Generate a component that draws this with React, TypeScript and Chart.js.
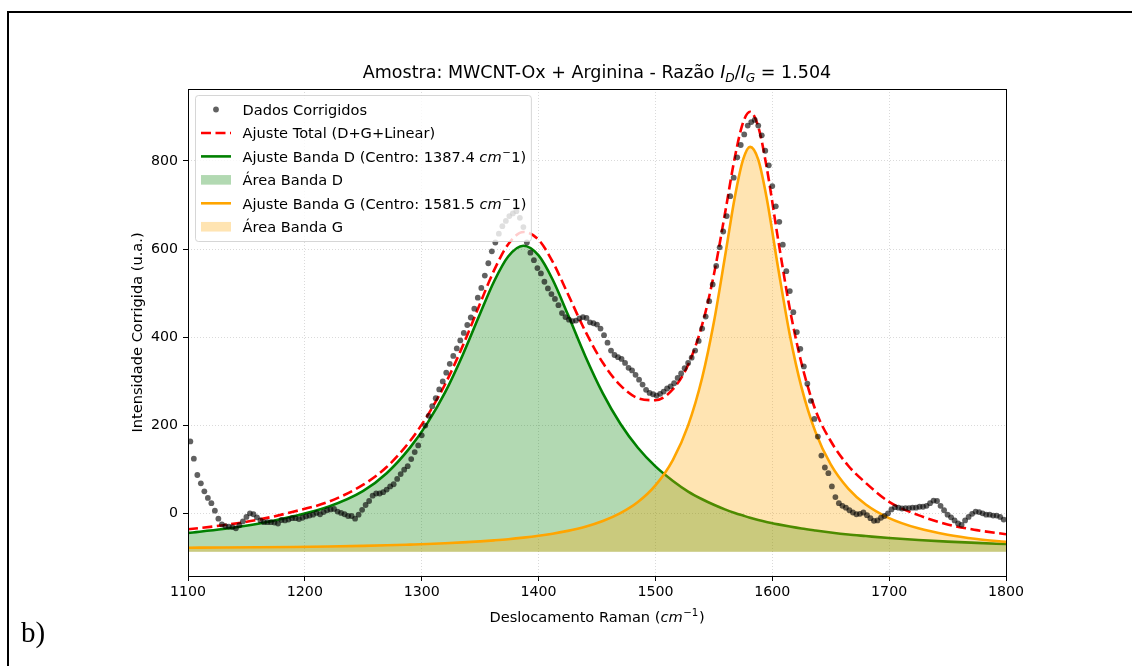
import React, { useEffect, useRef } from "react";
import { Chart, registerables } from "chart.js";

Chart.register(...registerables);

// ---------- data ----------
const ramanShift = [
  1102, 1105, 1108, 1111, 1114, 1117, 1120, 1123, 1126, 1129,
  1132, 1135, 1138, 1141, 1144, 1147, 1150, 1153, 1156, 1159,
  1162, 1165, 1168, 1171, 1174, 1177, 1180, 1183, 1186, 1189,
  1192, 1195, 1198, 1201, 1204, 1207, 1210, 1213, 1216, 1219,
  1222, 1225, 1228, 1231, 1234, 1237, 1240, 1243, 1246, 1249,
  1252, 1255, 1258, 1261, 1264, 1267, 1270, 1273, 1276, 1279,
  1282, 1285, 1288, 1291, 1294, 1297, 1300, 1303, 1306, 1309,
  1312, 1315, 1318, 1321, 1324, 1327, 1330, 1333, 1336, 1339,
  1342, 1345, 1348, 1351, 1354, 1357, 1360, 1363, 1366, 1369,
  1372, 1375, 1378, 1381, 1384, 1387, 1390, 1393, 1396, 1399,
  1402, 1405, 1408, 1411, 1414, 1417, 1420, 1423, 1426, 1429,
  1432, 1435, 1438, 1441, 1444, 1447, 1450, 1453, 1456, 1459,
  1462, 1465, 1468, 1471, 1474, 1477, 1480, 1483, 1486, 1489,
  1492, 1495, 1498, 1501, 1504, 1507, 1510, 1513, 1516, 1519,
  1522, 1525, 1528, 1531, 1534, 1537, 1540, 1543, 1546, 1549,
  1552, 1555, 1558, 1561, 1564, 1567, 1570, 1573, 1576, 1579,
  1582, 1585, 1588, 1591, 1594, 1597, 1600, 1603, 1606, 1609,
  1612, 1615, 1618, 1621, 1624, 1627, 1630, 1633, 1636, 1639,
  1642, 1645, 1648, 1651, 1654, 1657, 1660, 1663, 1666, 1669,
  1672, 1675, 1678, 1681, 1684, 1687, 1690, 1693, 1696, 1699,
  1702, 1705, 1708, 1711, 1714, 1717, 1720, 1723, 1726, 1729,
  1732, 1735, 1738, 1741, 1744, 1747, 1750, 1753, 1756, 1759,
  1762, 1765, 1768, 1771, 1774, 1777, 1780, 1783, 1786, 1789,
  1792, 1795, 1798,
];

const intensity = [
  164, 125, 88, 69, 51, 36, 24, 7, -11, -24,
  -28, -29, -30, -33, -26, -17, -7, 1, -1, -8,
  -15, -19, -19, -19, -20, -22, -14, -15, -13, -10,
  -10, -12, -9, -6, -4, -2, 2, -1, 4, 8,
  10, 11, 5, 2, -1, -5, -5, -11, -2, 9,
  20, 29, 41, 46, 46, 49, 55, 62, 67, 79,
  90, 100, 108, 124, 140, 155, 178, 200, 222, 244,
  262, 282, 300, 320, 340, 358, 375, 393, 410, 428,
  445, 465, 490, 512, 540, 568, 595, 615, 635, 652,
  664, 675, 681, 686, 671, 650, 615, 592, 575, 557,
  545, 526, 511, 498, 487, 473, 455, 446, 440, 437,
  438, 443, 446, 444, 434, 432, 429, 420, 405, 388,
  370, 360, 355, 351, 342, 331, 325, 315, 304, 293,
  281, 274, 271, 268, 272, 277, 284, 289, 296, 308,
  318, 330, 342, 354, 370, 392, 420, 447, 482, 520,
  562, 604, 640, 675, 720, 762, 808, 836, 860, 880,
  888, 893, 880, 858, 823, 790, 743, 697, 662, 610,
  550, 505, 457, 412, 374, 334, 295, 256, 215, 175,
  132, 105, 92, 62, 38, 24, 18, 14, 8, 3,
  -1, 0, 3, -3, -10, -16, -15, -9, -5, 1,
  10, 15, 14, 12, 13, 13, 14, 14, 16, 16,
  18, 24, 30, 29, 18, 8, -2, -8, -15, -22,
  -25, -15, -7, 0, 5, 4, 1, -2, -2, -4,
  -4, -7, -13,
];

const fitX = [
  1100, 1130, 1160, 1190, 1220, 1250, 1270, 1290, 1305, 1320,
  1335, 1350, 1362, 1374, 1387, 1400, 1412, 1425, 1440, 1455,
  1470, 1485, 1500, 1515, 1528, 1540, 1550, 1560, 1568, 1575,
  1581, 1588, 1595, 1605, 1615, 1625, 1637, 1650, 1665, 1680,
  1700, 1725, 1750, 1775, 1800,
];

const totalFit = [
  -35.2, -26.0, -13.4, 4.6, 27, 66, 106, 165, 223.1, 293.7,
  380.1, 477.0, 552.4, 611.1, 638.9, 621.3, 571.6, 499.0, 413.8, 342.3,
  291.2, 262.2, 257.5, 282.7, 338.0, 428.6, 542.0, 688.1, 808.8, 887.1,
  911.4, 877.4, 788.6, 621.6, 464.7, 341.2, 234.8, 165, 109, 70,
  27, -3, -24.2, -37.0, -46.3,
];

const bandD = [
  -43.3, -34.6, -22.6, -5.5, 16, 52, 92, 150, 206.2, 275.2,
  359.6, 454.1, 527.2, 583.2, 607.5, 585.7, 531.2, 452.2, 357.3, 273.0,
  204.1, 149.7, 107.4, 74.5, 50.5, 33, 20.5, 9.5, 2, -4,
  -9, -14, -18.5, -24, -29, -33.5, -38, -42.5, -47, -50.5,
  -55, -59.5, -63, -66, -68.6,
];

const bandG = [
  -76.9, -76.5, -75.9, -75.1, -74.0, -72.6, -71.4, -69.8, -68.5, -66.8,
  -64.8, -62.5, -60.2, -57.6, -54.1, -49.9, -45.1, -38.7, -29.2, -16.3,
  1.5, 26.7, 64.4, 122.5, 200.5, 308.4, 434.0, 590.6, 718.7, 802.8,
  831.8, 802.7, 718.5, 557.3, 405.5, 286.6, 185.1, 111.9, 57.0, 21.1,
  -9.7, -33.0, -47.5, -57.1, -63.7,
];

const fillBaseline = -86;
const xTicks = [1100, 1200, 1300, 1400, 1500, 1600, 1700, 1800];
const yTicks = [0, 200, 400, 600, 800];
const xRange = [1100, 1800];
const yRange = [-141, 963];

const centerD = "1387.4";
const centerG = "1581.5";
const ratio = "1.504";

// ---------- styles ----------
const FONT = '"DejaVu Sans", "Noto Sans", sans-serif';
const TICK_SIZE = 14.2;
const LABEL_SIZE = 14.6;
const TITLE_SIZE = 17.5;
const GREEN = "#008000";
const ORANGE = "#FFA500";
const RED = "#FF0000";
const GREEN_FILL = "rgba(0,128,0,0.3)";
const ORANGE_FILL = "rgba(255,165,0,0.3)";
const DOT = "rgba(0,0,0,0.62)";

type Seg = { t: string; it?: boolean; sup?: boolean; sub?: boolean };

function segFont(s: Seg, size: number) {
  const fs = s.sup || s.sub ? size * 0.7 : size;
  return `${s.it ? "italic " : ""}${fs}px ${FONT}`;
}

function measureRich(ctx: CanvasRenderingContext2D, segs: Seg[], size: number) {
  let total = 0;
  for (const s of segs) {
    ctx.font = segFont(s, size);
    total += ctx.measureText(s.t).width + (s.sup ? size * 0.08 : 0);
  }
  return total;
}

function drawRich(
  ctx: CanvasRenderingContext2D,
  segs: Seg[],
  x: number,
  y: number,
  size: number,
  align: "left" | "center"
) {
  const total = measureRich(ctx, segs, size);
  let cx = align === "center" ? x - total / 2 : x;
  ctx.textAlign = "left";
  ctx.textBaseline = "alphabetic";
  for (const s of segs) {
    ctx.font = segFont(s, size);
    const dy = s.sup ? -size * 0.4 : s.sub ? size * 0.2 : 0;
    if (s.sup) cx += size * 0.04;
    ctx.fillText(s.t, cx, y + dy);
    cx += ctx.measureText(s.t).width + (s.sup ? size * 0.04 : 0);
  }
  return total;
}

type LegendRow = { kind: "dot" | "dash" | "line" | "patch"; color: string; label: Seg[] };

const legendRows: LegendRow[] = [
  { kind: "dot", color: DOT, label: [{ t: "Dados Corrigidos" }] },
  { kind: "dash", color: RED, label: [{ t: "Ajuste Total (D+G+Linear)" }] },
  {
    kind: "line",
    color: GREEN,
    label: [{ t: `Ajuste Banda D (Centro: ${centerD} ` }, { t: "cm", it: true }, { t: "\u2212", sup: true }, { t: "1)" }],
  },
  { kind: "patch", color: GREEN_FILL, label: [{ t: "Área Banda D" }] },
  {
    kind: "line",
    color: ORANGE,
    label: [{ t: `Ajuste Banda G (Centro: ${centerG} ` }, { t: "cm", it: true }, { t: "\u2212", sup: true }, { t: "1)" }],
  },
  { kind: "patch", color: ORANGE_FILL, label: [{ t: "Área Banda G" }] },
];

const overlayPlugin = {
  id: "overlay",
  afterDatasetsDraw(chart: any) {
    const { ctx, chartArea: a } = chart;
    ctx.save();
    ctx.strokeStyle = "#000";
    ctx.lineWidth = 1;
    ctx.setLineDash([]);
    ctx.strokeRect(a.left + 0.5, a.top + 0.5, a.right - a.left, a.bottom - a.top);
    ctx.restore();
  },
  afterDraw(chart: any) {
    const { ctx, chartArea: a } = chart;
    ctx.save();
    ctx.fillStyle = "#000";

    // title
    const titleSegs: Seg[] = [
      { t: "Amostra: MWCNT-Ox + Arginina - Razão " },
      { t: "I", it: true },
      { t: "D", it: true, sub: true },
      { t: "/" },
      { t: "I", it: true },
      { t: "G", it: true, sub: true },
      { t: ` = ${ratio}` },
    ];
    drawRich(ctx, titleSegs, (a.left + a.right) / 2, a.top - 11, TITLE_SIZE, "center");

    // x label
    drawRich(
      ctx,
      [{ t: "Deslocamento Raman (" }, { t: "cm", it: true }, { t: "\u22121", sup: true }, { t: ")" }],
      (a.left + a.right) / 2,
      621.5,
      LABEL_SIZE,
      "center"
    );

    // y label
    ctx.save();
    ctx.translate(141.5, (a.top + a.bottom) / 2);
    ctx.rotate(-Math.PI / 2);
    drawRich(ctx, [{ t: "Intensidade Corrigida (u.a.)" }], 0, 0, LABEL_SIZE, "center");
    ctx.restore();

    // legend
    const bx = a.left + 7.5;
    const by = a.top + 6.5;
    const textX = bx + 47;
    let maxW = 0;
    for (const r of legendRows) maxW = Math.max(maxW, measureRich(ctx, r.label, LABEL_SIZE));
    const bw = textX + maxW + 5 - bx;
    const pitch = 23.45;
    const bh = 146;
    ctx.beginPath();
    (ctx as any).roundRect(bx, by, bw, bh, 3);
    ctx.fillStyle = "rgba(255,255,255,0.8)";
    ctx.fill();
    ctx.strokeStyle = "rgba(204,204,204,0.8)";
    ctx.lineWidth = 1;
    ctx.stroke();

    const hx0 = bx + 5.5;
    const hx1 = bx + 35.5;
    legendRows.forEach((r, i) => {
      const cy = by + 14 + i * pitch;
      ctx.save();
      if (r.kind === "dot") {
        ctx.fillStyle = r.color;
        ctx.beginPath();
        ctx.arc((hx0 + hx1) / 2, cy, 2.9, 0, Math.PI * 2);
        ctx.fill();
      } else if (r.kind === "dash" || r.kind === "line") {
        ctx.strokeStyle = r.color;
        ctx.lineWidth = 2.6;
        ctx.setLineDash(r.kind === "dash" ? [10, 4.5] : []);
        ctx.beginPath();
        ctx.moveTo(hx0, cy);
        ctx.lineTo(hx1, cy);
        ctx.stroke();
      } else {
        ctx.fillStyle = r.color;
        ctx.fillRect(hx0, cy - 4.8, hx1 - hx0, 9.6);
      }
      ctx.restore();
      ctx.fillStyle = "#000";
      drawRich(ctx, r.label, textX, cy + 5.2, LABEL_SIZE, "left");
    });
    ctx.restore();
  },
};

export default function App() {
  const ref = useRef<HTMLCanvasElement>(null);

  useEffect(() => {
    if (!ref.current) return;
    const pts = (xs: number[], ys: number[]) => xs.map((x, i) => ({ x, y: ys[i] }));
    const gridCommon = {
      color: "rgba(176,176,176,0.6)",
      lineWidth: 0.8,
      borderDash: [1, 2],
      drawTicks: true,
      tickLength: 5,
      tickColor: "#000",
      tickWidth: 1,
      tickBorderDash: [],
    };
    const chart = new Chart(ref.current, {
      type: "line",
      data: {
        datasets: [
          {
            type: "scatter",
            label: "Dados Corrigidos",
            data: pts(ramanShift, intensity),
            showLine: false,
            pointRadius: 2.9,
            pointBorderWidth: 0,
            pointBackgroundColor: DOT,
            pointBorderColor: "rgba(0,0,0,0)",
            order: 0,
          } as any,
          {
            label: "Ajuste Total (D+G+Linear)",
            data: pts(fitX, totalFit),
            borderColor: RED,
            borderWidth: 2.6,
            borderDash: [10, 4.5],
            pointRadius: 0,
            cubicInterpolationMode: "monotone",
            fill: false,
            order: 1,
          },
          {
            label: "Ajuste Banda D",
            data: pts(fitX, bandD),
            borderColor: GREEN,
            borderWidth: 2.6,
            pointRadius: 0,
            cubicInterpolationMode: "monotone",
            fill: { value: fillBaseline },
            backgroundColor: GREEN_FILL,
            order: 3,
          },
          {
            label: "Ajuste Banda G",
            data: pts(fitX, bandG),
            borderColor: ORANGE,
            borderWidth: 2.6,
            pointRadius: 0,
            cubicInterpolationMode: "monotone",
            fill: { value: fillBaseline },
            backgroundColor: ORANGE_FILL,
            order: 2,
          },
        ],
      },
      options: {
        responsive: false,
        animation: false,
        devicePixelRatio: 1,
        layout: { padding: { left: 0, right: 126, top: 89, bottom: 0 } },
        plugins: {
          legend: { display: false },
          tooltip: { enabled: false },
          title: { display: false },
        },
        scales: {
          x: {
            type: "linear",
            min: xRange[0],
            max: xRange[1],
            afterFit: (s: any) => {
              s.height = 90;
            },
            afterBuildTicks: (s: any) => {
              s.ticks = xTicks.map((v) => ({ value: v }));
            },
            ticks: {
              callback: (v: any) => String(v),
              font: { family: FONT, size: TICK_SIZE },
              color: "#000",
              padding: 3,
              maxRotation: 0,
              autoSkip: false,
            },
            grid: gridCommon as any,
            border: { display: false, dash: [1, 2] } as any,
          },
          y: {
            type: "linear",
            min: yRange[0],
            max: yRange[1],
            afterFit: (s: any) => {
              s.width = 188;
            },
            afterBuildTicks: (s: any) => {
              s.ticks = yTicks.map((v) => ({ value: v }));
            },
            ticks: {
              callback: (v: any) => String(v),
              font: { family: FONT, size: TICK_SIZE },
              color: "#000",
              padding: 5,
              autoSkip: false,
            },
            grid: gridCommon as any,
            border: { display: false, dash: [1, 2] } as any,
          },
        },
      },
      plugins: [overlayPlugin],
    });
    return () => chart.destroy();
  }, []);

  return (
    <div
      style={{
        position: "fixed",
        left: 0,
        top: 0,
        width: 1132,
        height: 666,
        background: "#fff",
        overflow: "hidden",
      }}
    >
      <div
        style={{
          position: "absolute",
          left: 7,
          top: 11,
          width: 1200,
          height: 800,
          borderTop: "2px solid #000",
          borderLeft: "2px solid #000",
          boxSizing: "border-box",
        }}
      />
      <canvas
        ref={ref}
        width={1132}
        height={666}
        style={{ position: "absolute", left: 0, top: 0, width: 1132, height: 666 }}
      />
      <div
        style={{
          position: "absolute",
          left: 21,
          top: 617,
          fontFamily: '"Liberation Serif", "Times New Roman", serif',
          fontSize: 29,
          lineHeight: "30px",
          color: "#000",
        }}
      >
        b)
      </div>
    </div>
  );
}
